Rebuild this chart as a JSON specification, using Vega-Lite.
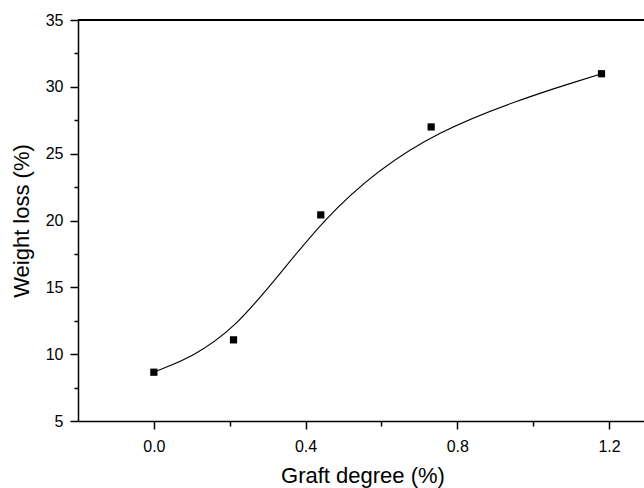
{
  "$schema": "https://vega.github.io/schema/vega-lite/v6.json",
  "width": 569,
  "height": 401,
  "autosize": "none",
  "padding": {"left": 78, "top": 20, "right": 0, "bottom": 67},
  "background": "white",
  "config": {
    "view": {"stroke": null},
    "axis": {
      "labelFont": "Liberation Sans",
      "titleFont": "Liberation Sans",
      "labelColor": "black",
      "titleColor": "black",
      "domainColor": "black",
      "tickColor": "black",
      "grid": false,
      "labelFontSize": 16,
      "titleFontSize": 22,
      "titleFontWeight": "normal",
      "domainWidth": 1.5,
      "tickWidth": 1.5
    }
  },
  "data": {
    "values": [
      {"graft": 0.0, "loss": 8.65},
      {"graft": 0.21, "loss": 11.07},
      {"graft": 0.44, "loss": 20.42},
      {"graft": 0.731, "loss": 27.0},
      {"graft": 1.18, "loss": 30.98}
    ]
  },
  "layer": [
    {
      "mark": {"type": "line", "interpolate": "basis", "color": "black", "strokeWidth": 1.1},
      "encoding": {
        "x": {"field": "graft", "type": "quantitative",
          "scale": {"domain": [-0.2, 1.3], "nice": false, "zero": false},
          "axis": {"orient": "bottom", "values": [0.2, 0.6, 1.0], "labels": false, "title": null, "domain": false, "tickSize": 5}},
        "y": {"field": "loss", "type": "quantitative",
          "scale": {"domain": [5, 35], "nice": false, "zero": false},
          "axis": {"orient": "left", "values": [7.5, 12.5, 17.5, 22.5, 27.5, 32.5], "labels": false, "title": null, "domain": false, "tickSize": 4}}
      }
    },
    {
      "mark": {"type": "square", "color": "black", "size": 52, "opacity": 1, "filled": true},
      "encoding": {
        "x": {"field": "graft", "type": "quantitative",
          "axis": {"orient": "bottom", "values": [0, 0.4, 0.8, 1.2], "format": ".1f", "title": "Graft degree (%)", "tickSize": 8, "labelPadding": 9, "titlePadding": 11}},
        "y": {"field": "loss", "type": "quantitative",
          "axis": {"orient": "left", "values": [5, 10, 15, 20, 25, 30, 35], "title": "Weight loss (%)", "tickSize": 8, "labelPadding": 7, "titlePadding": 12}}
      }
    },
    {
      "mark": {"type": "rule", "color": "black", "strokeWidth": 1.5},
      "encoding": {"y": {"datum": 35, "axis": null}}
    }
  ],
  "resolve": {"axis": {"x": "independent", "y": "independent"}}
}
